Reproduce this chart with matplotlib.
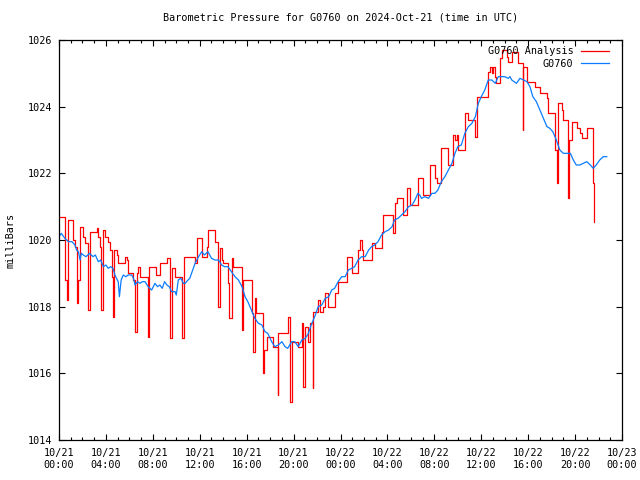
import matplotlib
matplotlib.use("Agg")
import matplotlib.pyplot as plt
from matplotlib.ticker import MultipleLocator, FixedLocator

# ---- data (hours since 2024-10-21 00:00 UTC, millibars) ----
analysis_hours = [0.0, 0.51, 0.66, 0.74, 1.22, 1.36, 1.5, 1.65, 1.79, 2.07, 2.2, 2.5, 2.64,
                  3.2, 3.35, 3.5, 3.58, 3.78, 3.92, 4.2, 4.35, 4.49, 4.63, 4.71, 4.92, 5.05,
                  5.63, 5.8, 5.9, 6.33, 6.48, 6.62, 6.76, 6.9, 7.6, 7.7, 7.82, 8.25, 8.6,
                  9.18, 9.46, 9.6, 9.89, 10.5, 10.68, 11.6, 11.74, 12.17, 12.6, 12.73, 13.3,
                  13.58, 13.7, 13.86, 14.0, 14.4, 14.5, 14.72, 14.86, 15.58, 15.72, 16.43,
                  16.57, 16.7, 16.8, 17.4, 17.5, 17.7, 18.27, 18.64, 18.7, 19.55, 19.7,
                  19.84, 20.4, 20.7, 20.84, 20.97, 21.25, 21.4, 21.63, 21.68, 22.1, 22.25,
                  22.5, 22.68, 22.96, 23.53, 23.8, 24.53, 24.95, 25.5, 25.66, 25.8, 25.94,
                  26.66, 26.94, 27.5, 27.65, 28.5, 28.65, 28.79, 29.35, 29.64, 29.92, 30.63,
                  31.06, 31.63, 32.06, 32.2, 32.57, 33.19, 33.6, 33.76, 33.9, 34.04, 34.6,
                  34.9, 35.46, 35.6, 36.55, 36.74, 36.9, 37.0, 37.17, 37.3, 37.6, 37.74,
                  38.2, 38.3, 38.6, 39.15, 39.53, 39.58, 39.87, 40.58, 41.0, 41.58, 41.7,
                  42.28, 42.42, 42.56, 42.85, 43.0, 43.42, 43.5, 43.7, 44.13, 44.4, 44.56,
                  44.98, 45.55, 45.64]
analysis_mb = [1020.7, 1018.8, 1018.2, 1020.6, 1020.0, 1019.8, 1018.1, 1018.8, 1020.4,
               1020.1, 1019.9, 1017.9, 1020.25, 1020.35, 1020.1, 1019.8, 1017.9, 1020.3,
               1020.1, 1019.95, 1019.7, 1018.9, 1017.7, 1019.7, 1019.55, 1019.3, 1019.5,
               1019.4, 1019.0, 1018.8, 1017.25, 1019.0, 1019.2, 1018.9, 1017.1, 1019.2,
               1019.2, 1018.95, 1019.3, 1019.45, 1017.05, 1019.15, 1018.9, 1017.05, 1019.5,
               1019.3, 1020.05, 1019.5, 1019.8, 1020.3, 1019.95, 1018.0, 1019.75, 1019.4,
               1019.3, 1018.7, 1017.65, 1019.45, 1019.2, 1017.3, 1018.8, 1017.8, 1016.65,
               1018.25, 1017.8, 1016.0, 1016.7, 1017.1, 1016.8, 1015.35, 1017.2, 1017.7,
               1015.15, 1016.95, 1016.8, 1017.5, 1015.6, 1017.4, 1016.95, 1017.5, 1015.55,
               1017.85, 1018.2, 1017.85, 1018.0, 1018.4, 1018.0, 1018.4, 1018.75, 1019.5,
               1019.0, 1019.7, 1020.0, 1019.7, 1019.4, 1019.9, 1019.75, 1020.25, 1020.75,
               1020.2, 1021.1, 1021.25, 1020.75, 1021.55, 1021.05, 1021.85, 1021.35,
               1022.25, 1021.85, 1021.7, 1022.75, 1022.25, 1023.15, 1023.0, 1023.15,
               1022.7, 1023.8, 1023.6, 1023.1, 1024.3, 1025.05, 1025.2, 1025.0, 1025.2,
               1024.9, 1024.7, 1025.45, 1025.7, 1025.5, 1025.35, 1025.65, 1025.3, 1023.3,
               1025.2, 1024.75, 1024.6, 1024.4, 1024.25, 1023.8, 1022.7, 1021.7, 1024.1,
               1023.9, 1023.6, 1021.25, 1023.0, 1023.55, 1023.35, 1023.2, 1023.05, 1023.35,
               1021.7, 1020.55]

station_hours = [0.0, 0.2, 0.5, 0.8, 1.1, 1.36, 1.5, 1.65, 1.8, 1.9, 2.07, 2.3, 2.6, 2.9,
                 3.1, 3.35, 3.55, 3.78, 4.0, 4.2, 4.4, 4.6, 4.77, 4.9, 5.05, 5.15, 5.3,
                 5.48, 5.7, 5.9, 6.2, 6.35, 6.48, 6.7, 6.9, 7.1, 7.33, 7.6, 7.9, 8.18, 8.4,
                 8.6, 8.8, 9.0, 9.2, 9.4, 9.6, 9.9, 10.0, 10.17, 10.4, 10.6, 10.75, 11.0,
                 11.15, 11.3, 11.6, 11.9, 12.17, 12.4, 12.7, 13.0, 13.3, 13.6, 13.87, 14.1,
                 14.4, 14.7, 15.0, 15.3, 15.6, 15.86, 16.1, 16.4, 16.7, 17.0, 17.3, 17.56,
                 17.8, 18.13, 18.4, 18.7, 19.0, 19.27, 19.5, 19.84, 20.1, 20.4, 20.7, 21.0,
                 21.26, 21.5, 21.8, 22.1, 22.4, 22.7, 23.0, 23.25, 23.5, 23.8, 24.1, 24.4,
                 24.67, 24.95, 25.2, 25.5, 25.8, 26.1, 26.4, 26.65, 26.9, 27.2, 27.5, 27.8,
                 28.1, 28.4, 28.6, 28.9, 29.2, 29.5, 29.8, 30.1, 30.35, 30.6, 30.75, 30.9,
                 31.2, 31.5, 31.8, 32.05, 32.3, 32.6, 32.9, 33.2, 33.5, 33.76, 34.0, 34.3,
                 34.6, 34.9, 35.2, 35.5, 35.75, 36.0, 36.3, 36.6, 36.9, 37.2, 37.45, 37.7,
                 38.0, 38.3, 38.45, 38.6, 38.8, 39.0, 39.3, 39.6, 39.9, 40.15, 40.4, 40.7,
                 41.0, 41.3, 41.6, 41.85, 42.1, 42.4, 42.7, 43.0, 43.3, 43.6, 43.85, 44.1,
                 44.4, 44.7, 45.0, 45.3, 45.55, 45.8, 46.1, 46.4, 46.7]
station_mb = [1020.1, 1020.2, 1020.05, 1019.95, 1019.95, 1019.85, 1019.7, 1019.65, 1019.4,
              1019.6, 1019.55, 1019.5, 1019.6, 1019.5, 1019.55, 1019.35, 1019.4, 1019.2,
              1019.25, 1019.15, 1019.2, 1019.15, 1018.95, 1018.85, 1018.75, 1018.3, 1018.8,
              1018.95, 1018.9, 1018.95, 1018.95, 1018.85, 1018.65, 1018.75, 1018.7, 1018.75,
              1018.75, 1018.6, 1018.5, 1018.7, 1018.6, 1018.65, 1018.55, 1018.75, 1018.65,
              1018.6, 1018.45, 1018.45, 1018.35, 1018.8, 1018.85, 1018.7, 1018.7, 1018.8,
              1018.85, 1019.0, 1019.3, 1019.5, 1019.65, 1019.55, 1019.65, 1019.45, 1019.4,
              1019.4, 1019.25, 1019.2, 1019.2, 1019.05, 1018.9, 1018.8, 1018.6, 1018.3,
              1018.15, 1017.9, 1017.65, 1017.5, 1017.45, 1017.25, 1017.2, 1016.95, 1016.8,
              1016.85, 1016.95, 1016.8, 1016.75, 1016.95, 1016.95, 1016.8, 1017.0, 1017.05,
              1017.2, 1017.45, 1017.7, 1018.0, 1018.05, 1018.25, 1018.3, 1018.5, 1018.55,
              1018.75, 1018.9, 1018.9, 1019.1, 1019.15, 1019.2, 1019.4, 1019.5, 1019.5,
              1019.7, 1019.8, 1019.85, 1019.95, 1020.15, 1020.25, 1020.3, 1020.4, 1020.6,
              1020.65, 1020.75, 1020.85, 1021.0, 1021.05, 1021.2, 1021.4, 1021.35, 1021.25,
              1021.3, 1021.25, 1021.4, 1021.4, 1021.5, 1021.75, 1021.9, 1022.1, 1022.3,
              1022.6, 1022.8, 1022.85, 1023.2, 1023.4, 1023.5, 1023.7, 1024.1, 1024.3,
              1024.5, 1024.8, 1024.8, 1024.7, 1024.9, 1024.9, 1024.9, 1024.85, 1024.9,
              1024.8, 1024.75, 1024.7, 1024.85, 1024.8, 1024.75, 1024.6, 1024.3, 1024.15,
              1023.9, 1023.65, 1023.4, 1023.35, 1023.25, 1023.0, 1022.7, 1022.6, 1022.6,
              1022.6, 1022.4, 1022.25, 1022.25, 1022.3, 1022.35, 1022.25, 1022.15, 1022.25,
              1022.4, 1022.5, 1022.5]

xtick_hours = [0, 4, 8, 12, 16, 20, 24, 28, 32, 36, 40, 44, 48]
xtick_labels = ["10/21\n00:00", "10/21\n04:00", "10/21\n08:00", "10/21\n12:00",
                "10/21\n16:00", "10/21\n20:00", "10/22\n00:00", "10/22\n04:00",
                "10/22\n08:00", "10/22\n12:00", "10/22\n16:00", "10/22\n20:00",
                "10/23\n00:00"]
ytick_values = [1014, 1016, 1018, 1020, 1022, 1024, 1026]

FONT = "DejaVu Sans Mono"
FS = 7.3
plt.rcParams['font.family'] = FONT

fig = plt.figure(figsize=(6.4, 4.8), dpi=100)
ax = fig.add_axes([59/640, 1-440/480, (622-59)/640, 400/480])

ax.plot(analysis_hours, analysis_mb, color="#ff0000", lw=0.9, drawstyle="steps-post",
        label="G0760 Analysis")
ax.plot(station_hours, station_mb, color="#0a7cff", lw=0.9, label="G0760")

ax.set_xlim(0, 48)
ax.set_ylim(1014, 1026)
ax.xaxis.set_major_locator(FixedLocator(xtick_hours))
ax.set_xticklabels(xtick_labels, fontsize=FS, linespacing=1.25)
ax.xaxis.set_minor_locator(MultipleLocator(1))
ax.set_yticks(ytick_values)
ax.set_yticklabels([str(v) for v in ytick_values], fontsize=FS)

ax.tick_params(axis="both", which="both", direction="in", top=True, right=True,
               width=0.8, color="black")
ax.tick_params(axis="both", which="major", length=4.5)
ax.tick_params(axis="x", which="minor", length=2.5)
ax.tick_params(axis="x", which="major", pad=6)
ax.tick_params(axis="y", which="major", pad=5)
for s in ax.spines.values():
    s.set_linewidth(0.9)

ax.set_title("Barometric Pressure for G0760 on 2024-Oct-21 (time in UTC)",
             fontsize=FS, pad=14)
ax.set_ylabel("milliBars", fontsize=FS, labelpad=9)

leg = ax.legend(loc="upper right", bbox_to_anchor=(1 - 8/563, 1 - 1/400),
                frameon=False, markerfirst=False, fontsize=FS,
                handlelength=2.8, handletextpad=0.7, labelspacing=0.25,
                borderaxespad=0.2, borderpad=0.3)

fig.savefig("out.png", dpi=100)
